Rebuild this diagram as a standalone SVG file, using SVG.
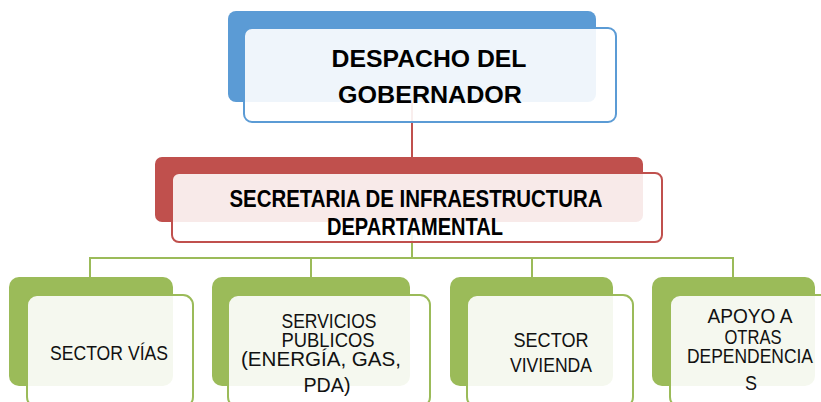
<svg xmlns="http://www.w3.org/2000/svg" width="821" height="402" viewBox="0 0 821 402">
<style>
.bk-blue{fill:#5b9bd5}
.fr-blue{fill:#ffffff;fill-opacity:0.9;stroke:#5b9bd5;stroke-width:2}
.bk-red{fill:#c0504d}
.fr-red{fill:#ffffff;fill-opacity:0.88;stroke:#c0504d;stroke-width:2}
.bk-green{fill:#9bbb59}
.fr-green{fill:#ffffff;fill-opacity:0.9;stroke:#9bbb59;stroke-width:2}
.tb{font-family:"Liberation Sans",Arial,sans-serif;font-weight:bold;fill:#000;text-anchor:middle}
.tn{font-family:"Liberation Sans",Arial,sans-serif;font-size:21px;fill:#111;text-anchor:middle}
.conn-red{stroke:#c0504d;stroke-width:2;fill:none}
.conn-green{stroke:#9bbb59;stroke-width:2;fill:none}
</style>
<rect width="821" height="402" fill="#ffffff"/>
<g id="connectors">
  <path class="conn-red" d="M412,100 V158"/>
  <path class="conn-green" d="M412,220 V258 M90,258 H733 M90,257 V278 M311,257 V278 M532,257 V278 M733,257 V278"/>
</g>
<g id="despacho">
  <rect class="bk-blue" x="228" y="11" width="368" height="91" rx="8"/>
  <rect class="fr-blue" x="244" y="28" width="372" height="94" rx="8"/>
  <text class="tb" font-size="24" x="429" y="67" textLength="195" lengthAdjust="spacingAndGlyphs">DESPACHO DEL</text>
  <text class="tb" font-size="24" x="430" y="103" textLength="184" lengthAdjust="spacingAndGlyphs">GOBERNADOR</text>
</g>
<g id="secretaria">
  <rect class="bk-red" x="155" y="157" width="488" height="65" rx="7"/>
  <rect class="fr-red" x="172" y="173" width="490" height="69" rx="7"/>
  <text class="tb" font-size="23" x="416" y="207" textLength="373" lengthAdjust="spacingAndGlyphs">SECRETARIA  DE INFRAESTRUCTURA</text>
  <text class="tb" font-size="23" x="415" y="235" textLength="176" lengthAdjust="spacingAndGlyphs">DEPARTAMENTAL</text>
</g>
<g id="sector-vias">
  <rect class="bk-green" x="9" y="277" width="164" height="109" rx="10"/>
  <rect class="fr-green" x="27" y="295" width="166" height="112" rx="10"/>
  <text class="tn" x="109" y="360" textLength="118" lengthAdjust="spacingAndGlyphs">SECTOR VÍAS</text>
</g>
<g id="servicios-publicos">
  <rect class="bk-green" x="212" y="277" width="198" height="109" rx="10"/>
  <rect class="fr-green" x="228" y="295" width="202" height="112" rx="10"/>
  <text class="tn" x="329" y="328" textLength="95" lengthAdjust="spacingAndGlyphs">SERVICIOS</text>
  <text class="tn" x="328" y="347" textLength="93" lengthAdjust="spacingAndGlyphs">PUBLICOS</text>
  <text class="tn" x="321" y="366" textLength="160" lengthAdjust="spacingAndGlyphs">(ENERGÍA,  GAS,</text>
  <text class="tn" x="327" y="392" textLength="47" lengthAdjust="spacingAndGlyphs">PDA)</text>
</g>
<g id="sector-vivienda">
  <rect class="bk-green" x="450" y="277" width="163" height="109" rx="10"/>
  <rect class="fr-green" x="467" y="295" width="166" height="112" rx="10"/>
  <text class="tn" x="551" y="347" textLength="75" lengthAdjust="spacingAndGlyphs">SECTOR</text>
  <text class="tn" x="551" y="372" textLength="82" lengthAdjust="spacingAndGlyphs">VIVIENDA</text>
</g>
<g id="apoyo">
  <rect class="bk-green" x="652" y="277" width="163" height="109" rx="10"/>
  <rect class="fr-green" x="670" y="295" width="166" height="112" rx="10"/>
  <text class="tn" x="750" y="323" textLength="85" lengthAdjust="spacingAndGlyphs">APOYO  A</text>
  <text class="tn" x="753" y="344" textLength="57" lengthAdjust="spacingAndGlyphs">OTRAS</text>
  <text class="tn" x="750" y="363" textLength="126" lengthAdjust="spacingAndGlyphs">DEPENDENCIA</text>
  <text class="tn" x="751" y="390" textLength="12" lengthAdjust="spacingAndGlyphs">S</text>
</g>
</svg>
